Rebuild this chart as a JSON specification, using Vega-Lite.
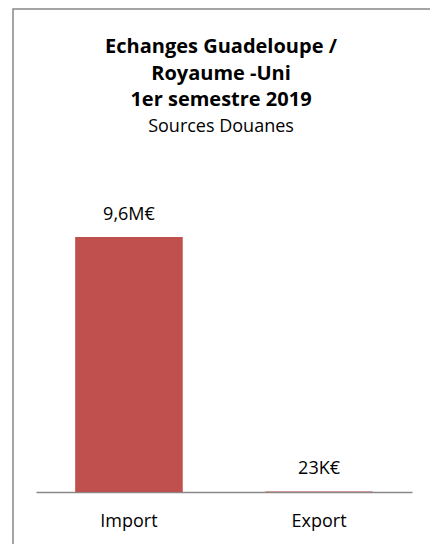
{
  "$schema": "https://vega.github.io/schema/vega-lite/v6.json",
  "autosize": "none",
  "padding": {"left": 13, "top": 9, "right": 0, "bottom": 0},
  "width": 430,
  "height": 545,
  "background": "white",
  "config": {
    "view": {"stroke": "#888888", "strokeWidth": 1.5},
    "font": "Open Sans"
  },
  "title": {
    "text": ["Echanges Guadeloupe /", "Royaume -Uni", "1er semestre 2019"],
    "subtitle": "Sources Douanes",
    "anchor": "middle",
    "offset": -127,
    "dx": -7,
    "font": "Open Sans",
    "fontSize": 20,
    "fontWeight": "bold",
    "lineHeight": 26.5,
    "color": "#000000",
    "subtitleFont": "Open Sans",
    "subtitleFontSize": 18,
    "subtitleColor": "#000000",
    "subtitlePadding": 8
  },
  "data": {
    "values": [
      {"flux": "Import", "valeur": 9.6, "label": "9,6M€"},
      {"flux": "Export", "valeur": 0.023, "label": "23K€"}
    ]
  },
  "encoding": {
    "x": {
      "field": "flux",
      "type": "nominal",
      "sort": ["Import", "Export"],
      "scale": {"range": [23, 399], "paddingInner": 0.434, "paddingOuter": 0.206},
      "axis": {
        "title": null,
        "offset": -62,
        "domainColor": "#888888",
        "domainWidth": 1.5,
        "ticks": false,
        "labelAngle": 0,
        "labelPadding": 20,
        "labelFontSize": 18,
        "labelColor": "#000000",
        "labelFont": "Open Sans"
      }
    },
    "y": {
      "field": "valeur",
      "type": "quantitative",
      "scale": {"domain": [-2.334, 18.184], "nice": false, "zero": false},
      "axis": null
    }
  },
  "layer": [
    {"mark": {"type": "bar", "color": "#C0504D"}},
    {
      "mark": {"type": "text", "baseline": "bottom", "dy": -13, "fontSize": 18, "color": "#000000", "font": "Open Sans"},
      "encoding": {"text": {"field": "label"}}
    }
  ]
}
